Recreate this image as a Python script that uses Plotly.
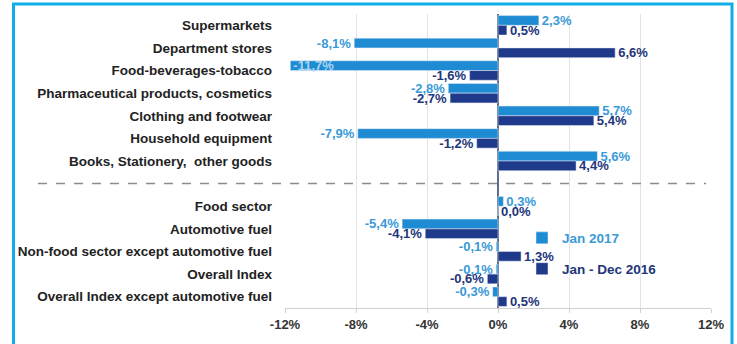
import plotly.graph_objects as go

categories = [
    "Supermarkets",
    "Department stores",
    "Food-beverages-tobacco",
    "Pharmaceutical products, cosmetics",
    "Clothing and footwear",
    "Household equipment",
    "Books, Stationery,  other goods",
    " ",
    "Food sector",
    "Automotive fuel",
    "Non-food sector except automotive fuel",
    "Overall Index",
    "Overall Index except automotive fuel",
]
jan_2017 = [2.3, -8.1, -11.7, -2.8, 5.7, -7.9, 5.6, None, 0.3, -5.4, -0.1, -0.1, -0.3]
jan_dec_2016 = [0.5, 6.6, -1.6, -2.7, 5.4, -1.2, 4.4, None, 0.0, -4.1, 1.3, -0.6, 0.5]
x_ticks = [-12, -8, -4, 0, 4, 8, 12]
x_ticklabels = ["-12%", "-8%", "-4%", "0%", "4%", "8%", "12%"]

LIGHT = "#1f8bd3"
DARK = "#1f3a8a"
LIGHT_TXT = "#3a9ad8"
DARK_TXT = "#22357a"
FONT = "Liberation Sans, Arial, sans-serif"


def fmt(v):
    if v is None:
        return ""
    return f"{v:.1f}".replace(".", ",") + "%"


def positions(vals):
    out = []
    for v in vals:
        if v is not None and v <= -11:
            out.append("inside")
        else:
            out.append("outside")
    return out


fig = go.Figure()
fig.add_trace(go.Bar(
    name="Jan 2017", y=categories, x=jan_2017, orientation="h",
    marker=dict(color=LIGHT), text=[fmt(v) for v in jan_2017],
    textposition=positions(jan_2017), insidetextanchor="end",
    constraintext="none",
    textfont=dict(family=FONT, size=13, color=LIGHT_TXT),
    insidetextfont=dict(family=FONT, size=13, color="#a9d4f2"),
    outsidetextfont=dict(family=FONT, size=13, color=LIGHT_TXT),
    cliponaxis=False, legend="legend",
))
fig.add_trace(go.Bar(
    name="Jan - Dec 2016", y=categories, x=jan_dec_2016, orientation="h",
    marker=dict(color=DARK), text=[fmt(v) for v in jan_dec_2016],
    textposition="outside", constraintext="none",
    textfont=dict(family=FONT, size=13, color=DARK_TXT, weight="bold"),
    outsidetextfont=dict(family=FONT, size=13, color=DARK_TXT, weight="bold"),
    cliponaxis=False, legend="legend2",
))

L, R, T, B = 285, 26, 14, 34
W, H = 737, 344
pw, ph = W - L - R, H - T - B


def px_x(p):
    return (p - L) / pw


def px_y(p):
    return (H - B - p) / ph


fig.update_layout(
    width=W, height=H,
    margin=dict(l=L, r=R, t=T, b=B),
    paper_bgcolor="white", plot_bgcolor="white",
    barmode="group", bargap=0.14, bargroupgap=0.0,
    font=dict(family=FONT, size=13, color="#222222", weight="bold"),
    xaxis=dict(
        range=[-12, 12], tickvals=x_ticks, ticktext=x_ticklabels,
        showgrid=True, gridcolor="#e3e3e3", gridwidth=1,
        zeroline=True, zerolinecolor="#5d6f8c", zerolinewidth=1.5,
        showline=True, linecolor="#d0d0d0", ticks="outside", tickcolor="#d0d0d0",
        ticklen=4, tickfont=dict(family=FONT, size=13, color="#333333", weight="bold"),
    ),
    yaxis=dict(
        type="category", categoryorder="array", categoryarray=categories,
        autorange="reversed", showgrid=False, ticks="", ticklen=0,
        ticklabelstandoff=12,
        tickfont=dict(family=FONT, size=13.5, color="#222222", weight="bold"),
    ),
    legend=dict(
        x=px_x(522), y=px_y(224), xanchor="left", yanchor="top",
        bgcolor="rgba(0,0,0,0)", font=dict(family=FONT, size=13.5, color=LIGHT_TXT, weight="bold"),
    ),
    legend2=dict(
        x=px_x(522), y=px_y(255), xanchor="left", yanchor="top",
        bgcolor="rgba(0,0,0,0)", font=dict(family=FONT, size=13.5, color=DARK_TXT, weight="bold"),
    ),
    showlegend=True,
)

# dashed separator on the blank row
fig.add_shape(type="line", xref="paper", yref="y",
              x0=px_x(38), x1=px_x(706), y0=7, y1=7,
              line=dict(color="#8c8c8c", width=1.5, dash="dash"), layer="above")

# outer frame
fig.add_shape(type="rect", xref="paper", yref="paper",
              x0=px_x(13.5), x1=px_x(732), y0=px_y(4), y1=px_y(360),
              line=dict(color="#10aee8", width=3), fillcolor="rgba(0,0,0,0)", layer="above")

fig.write_html("out.html")
